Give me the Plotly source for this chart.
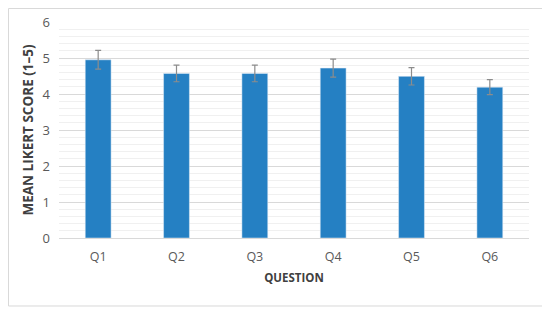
import plotly.graph_objects as go

questions = ["Q1", "Q2", "Q3", "Q4", "Q5", "Q6"]
means = [4.95, 4.57, 4.57, 4.72, 4.49, 4.19]
errors = [0.26, 0.23, 0.23, 0.25, 0.24, 0.21]

fig = go.Figure()
fig.add_trace(go.Bar(
    x=questions,
    y=means,
    marker=dict(color="#2580c3"),
    width=0.33,
    error_y=dict(type="data", array=errors, visible=True,
                 color="#8c8c8c", thickness=1.2, width=3),
))

# page body has an 8px margin, so the margins are shifted to compensate
fig.update_layout(
    width=550, height=312,
    margin=dict(l=51, r=29, t=14, b=82, autoexpand=False),
    paper_bgcolor="white", plot_bgcolor="white",
    font=dict(family="Open Sans", size=13, color="#595959"),
    showlegend=False,
    xaxis=dict(
        title=dict(text="QUESTION", font=dict(size=11.5, color="#404040", weight="bold"), standoff=9),
        showline=True, linecolor="#d9d9d9", ticks="", automargin=False,
        tickfont=dict(size=12.5), ticklabelstandoff=7,
    ),
    yaxis=dict(
        title=dict(text="MEAN LIKERT SCORE (1–5)", font=dict(size=13.5, color="#404040", weight="bold"), standoff=5),
        range=[0, 6], dtick=1, tick0=0, automargin=False,
        showgrid=True, gridcolor="#d9d9d9", gridwidth=1,
        zeroline=False, ticks="", ticklabelstandoff=8,
        minor=dict(dtick=0.2, showgrid=True, gridcolor="#f0f0f0", gridwidth=1),
    ),
    shapes=[dict(type="rect", xref="paper", yref="paper",
                 x0=-0.1074, x1=1.0298, y0=-0.3148, y1=1.0625,
                 line=dict(color="#d9d9d9", width=1))],
)

fig.write_html("out.html")
